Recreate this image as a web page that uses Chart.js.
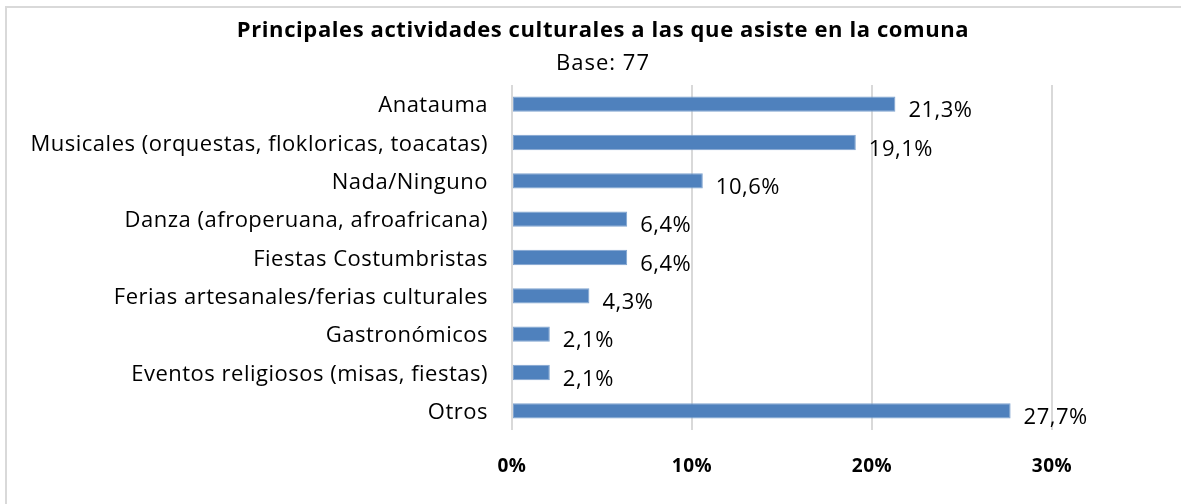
<!DOCTYPE html>
<html>
<head>
<meta charset="utf-8">
<script src="https://cdn.jsdelivr.net/npm/chart.js@4/dist/chart.umd.min.js"></script>
<style>
  html, body { margin: 0; padding: 0; background: #ffffff; overflow: hidden; }
  #frame { position: absolute; left: 5px; top: 6px; width: 1300px; height: 600px;
           border-left: 2px solid #d9d9d9; border-top: 2px solid #d9d9d9; }
  #wrap { position: absolute; left: 0; top: 0; width: 1181px; height: 504px; }
</style>
</head>
<body>
<div id="frame"></div>
<div id="wrap"><canvas id="c" width="1181" height="504"></canvas></div>
<script>
const titleText = "Principales actividades culturales a las que asiste en la comuna";
const subtitleText = "Base: 77";
const categories = [
  "Anatauma",
  "Musicales (orquestas, flokloricas, toacatas)",
  "Nada/Ninguno",
  "Danza (afroperuana, afroafricana)",
  "Fiestas Costumbristas",
  "Ferias artesanales/ferias culturales",
  "Gastronómicos",
  "Eventos religiosos (misas, fiestas)",
  "Otros"
];
const values = [21.3, 19.1, 10.6, 6.4, 6.4, 4.3, 2.1, 2.1, 27.7];
const valueLabels = ["21,3%", "19,1%", "10,6%", "6,4%", "6,4%", "4,3%", "2,1%", "2,1%", "27,7%"];
const tickValues = [0, 10, 20, 30];

const FONT = "'Open Sans'";

const spacingPlugin = {
  id: 'spacing',
  beforeDraw(chart) { chart.ctx.letterSpacing = '0.5px'; }
};

const titlePlugin = {
  id: 'customTitle',
  afterDraw(chart) {
    const ctx = chart.ctx;
    ctx.save();
    ctx.fillStyle = '#000000';
    ctx.textAlign = 'center';
    ctx.textBaseline = 'middle';
    ctx.letterSpacing = '0.6px';
    ctx.font = "bold 22px " + FONT;
    ctx.fillText(titleText, 603, 31);
    ctx.letterSpacing = '1px';
    ctx.font = "22px " + FONT;
    ctx.fillText(subtitleText, 603, 64);
    ctx.restore();
  }
};

const dataLabelPlugin = {
  id: 'dataLabels',
  afterDatasetsDraw(chart) {
    const ctx = chart.ctx;
    const meta = chart.getDatasetMeta(0);
    ctx.save();
    ctx.letterSpacing = '0.5px';
    ctx.font = "22px " + FONT;
    ctx.fillStyle = "#000000";
    ctx.textAlign = "left";
    ctx.textBaseline = "middle";
    meta.data.forEach((bar, i) => {
      ctx.fillText(valueLabels[i], bar.x + 13, bar.y + 7);
    });
    ctx.restore();
  }
};

new Chart(document.getElementById('c'), {
  type: 'bar',
  data: {
    labels: categories,
    datasets: [{
      data: values,
      backgroundColor: '#4f81bd',
      borderColor: '#7fa3cf',
      borderWidth: 1,
      borderSkipped: false,
      barPercentage: 0.4,
      categoryPercentage: 1.0
    }]
  },
  options: {
    indexAxis: 'y',
    responsive: false,
    animation: false,
    layout: { padding: { left: 0, right: 129, top: 85, bottom: 0 } },
    plugins: {
      legend: { display: false },
      tooltip: { enabled: false },
      title: { display: false },
      subtitle: { display: false }
    },
    scales: {
      x: {
        min: 0, max: 30,
        afterBuildTicks(axis) { axis.ticks = tickValues.map(v => ({ value: v })); },
        afterFit(axis) { axis.height = 74; },
        grid: { color: '#d9d9d9', lineWidth: 2, drawTicks: false },
        border: { display: false },
        ticks: {
          padding: 25,
          color: '#000000',
          font: { family: FONT, size: 19, weight: 'bold' },
          callback: v => v + '%'
        }
      },
      y: {
        afterFit(axis) { axis.width = 512; },
        grid: { display: false, drawTicks: false },
        border: { display: false },
        ticks: {
          padding: 24,
          labelOffset: 2,
          color: '#000000',
          font: { family: FONT, size: 22 },
          autoSkip: false
        }
      }
    }
  },
  plugins: [spacingPlugin, dataLabelPlugin, titlePlugin]
});
</script>
</body>
</html>
